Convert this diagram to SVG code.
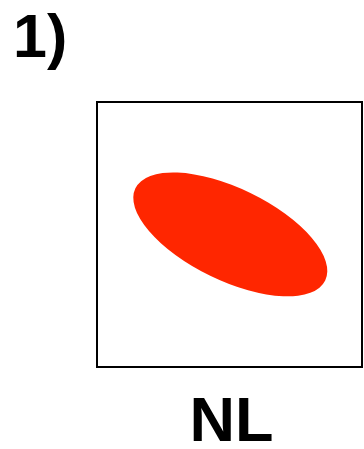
<svg xmlns="http://www.w3.org/2000/svg" width="364" height="449" viewBox="0 0 364 449">
<style>
.lbl{font-family:"Liberation Sans",Arial,sans-serif;font-weight:bold;fill:#000}
</style>
<rect width="364" height="449" fill="#fff"/>
<g id="label-1">
<text class="lbl" x="13" y="57" font-size="61">1)</text>
</g>
<g id="panel">
<rect x="97" y="102" width="265" height="265" fill="#fff" stroke="#000" stroke-width="2"/>
<ellipse cx="230.3" cy="234.4" rx="105.5" ry="46" fill="#ff2600" transform="rotate(25.9 230.3 234.4)"/>
</g>
<g id="label-NL">
<text class="lbl" x="231.5" y="441" font-size="63" text-anchor="middle">NL</text>
</g>
<g id="connectors"/>
</svg>
